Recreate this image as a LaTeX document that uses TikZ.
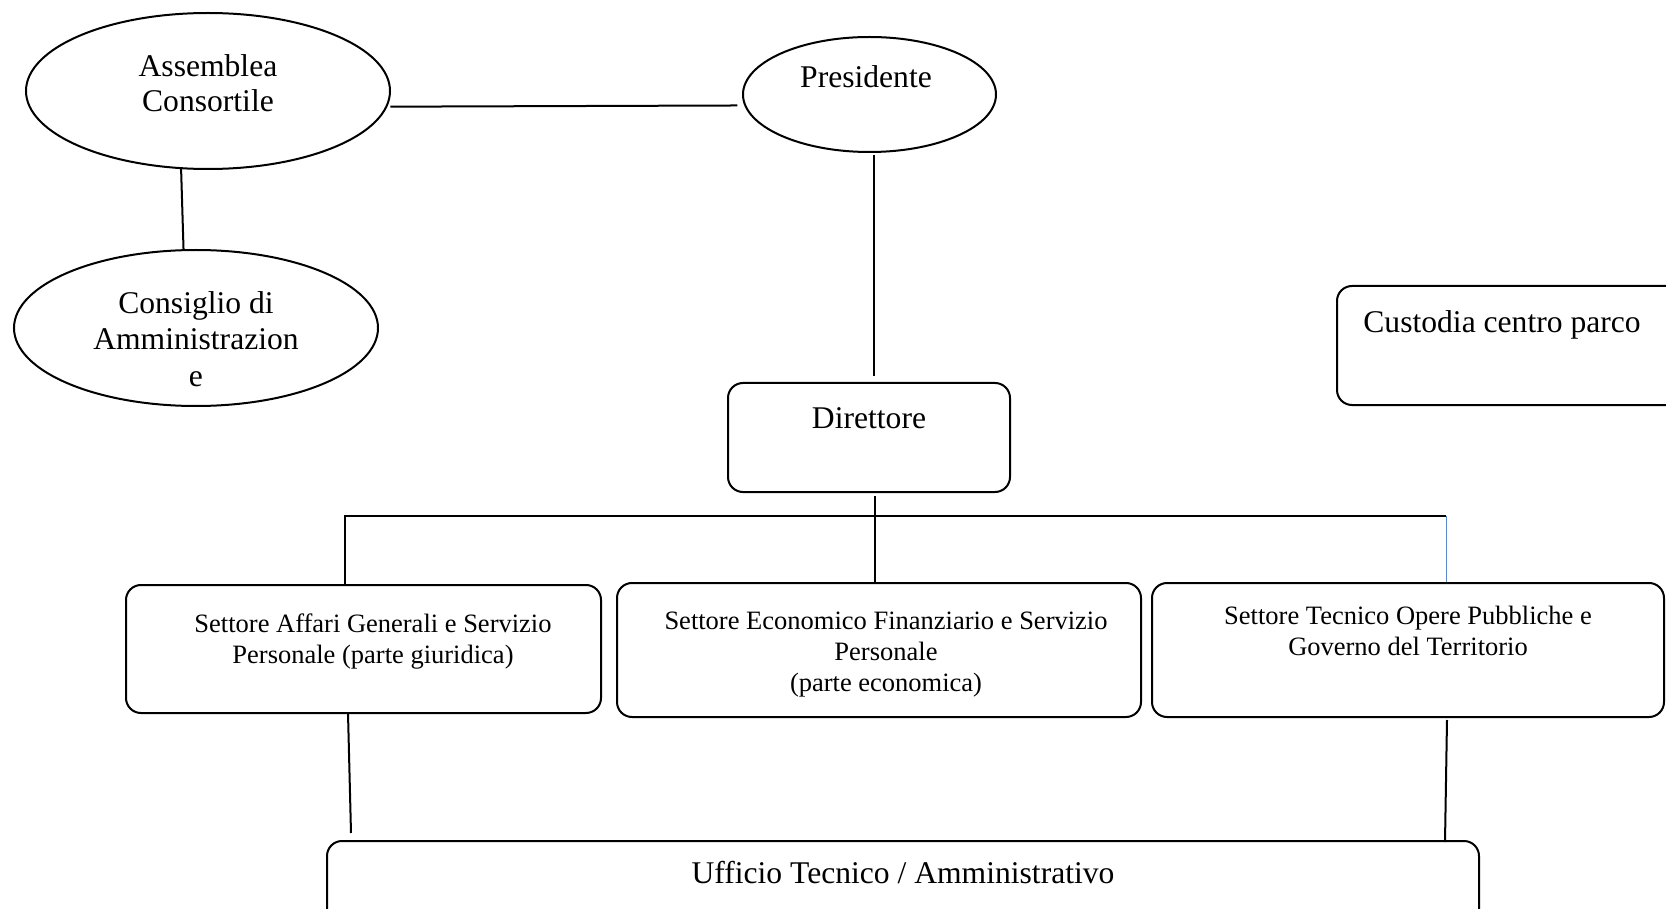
\documentclass[tikz,border=0pt]{standalone}
\usepackage{fontspec}
\setmainfont{Liberation Serif}
\usetikzlibrary{shapes.geometric,calc}
\definecolor{linkblue}{RGB}{91,135,205}
\tikzset{
  ovalbox/.style={draw, line width=1pt, ellipse, inner sep=0pt},
  roundbox/.style={draw, line width=1pt, rectangle, rounded corners=7.5pt, inner sep=0pt},
  bigtext/.style={font=\fontsize{15.8pt}{17.5pt}\selectfont, inner sep=0pt, align=center},
  smalltext/.style={font=\fontsize{13.25pt}{15.5pt}\selectfont, inner sep=0pt, align=center},
  link/.style={line width=1pt},
}
\begin{document}
\begin{tikzpicture}[x=0.5pt,y=-0.5pt]
\useasboundingbox (0,0) rectangle (1666,909);
% shapes
\node[ovalbox, minimum width=182pt, minimum height=78pt] (A) at (208,91) {};
\node[ovalbox, minimum width=182pt, minimum height=78pt] (C) at (196,328) {};
\node[ovalbox, minimum width=126.5pt, minimum height=57.5pt] (P) at (869.5,94.5) {};
\node[roundbox, minimum width=141pt, minimum height=54.5pt] (D) at (869,437.5) {};
\node[roundbox, minimum width=181.5pt, minimum height=59.5pt] (K) at (1518.5,345.5) {};
\node[roundbox, minimum width=237.5pt, minimum height=64pt] (S1) at (363.5,649) {};
\node[roundbox, minimum width=262pt, minimum height=67pt] (S2) at (879,650) {};
\node[roundbox, minimum width=256pt, minimum height=67pt] (S3) at (1408,650) {};
\node[roundbox, minimum width=576pt, minimum height=59.5pt] (U) at (903,900.5) {};
% texts
\node[bigtext] (tA) at (208,82.7) {Assemblea\\Consortile};
\node[bigtext, font=\fontsize{15.8pt}{18.25pt}\selectfont] (tC) at (196,338.7) {Consiglio di\\Amministrazion\\e};
\node[bigtext, anchor=base] (tP) at (866,88) {Presidente};
\node[bigtext, anchor=base] (tD) at (869,429) {Direttore};
\node[bigtext, anchor=base west] (tK) at (1363,333) {Custodia centro parco};
\node[bigtext, anchor=base] (tU) at (903,883) {Ufficio Tecnico / Amministrativo};
\node[smalltext] (tS1) at (373,642) {Settore Affari Generali e Servizio\\Personale (parte giuridica)};
\node[smalltext] (tS2) at (886,655) {Settore Economico Finanziario e Servizio\\Personale\\(parte economica)};
\node[smalltext] (tS3) at (1408,630.5) {Settore Tecnico Opere Pubbliche e\\Governo del Territorio};
% connectors
\coordinate (busR) at (1446,516);
\draw[link] (A.-109) -- (C.99.5);
\draw[link, shorten <=1.5pt, shorten >=3.5pt] (A.-5) -- (P.185);
\draw[link] ($(P.south)+(4.5,2)$) -- ($(D.north)+(5,-6)$);
\draw[link] ($(D.south)+(6,3)$) -- ($(S2.north)+(-4,0)$);
\draw[link] ($(S1.north)+(-18.5,0)$) |- (busR);
\draw[linkblue, line width=0.5pt] (busR) -- ($(S3.north)+(38,0)$);
\draw[link] ($(S1.south)+(-15.5,-1)$) -- ($(U.north)+(-552,-7)$);
\draw[link] ($(S3.south)+(39,2)$) -- ($(U.north)+(542,2)$);
\end{tikzpicture}
\end{document}
